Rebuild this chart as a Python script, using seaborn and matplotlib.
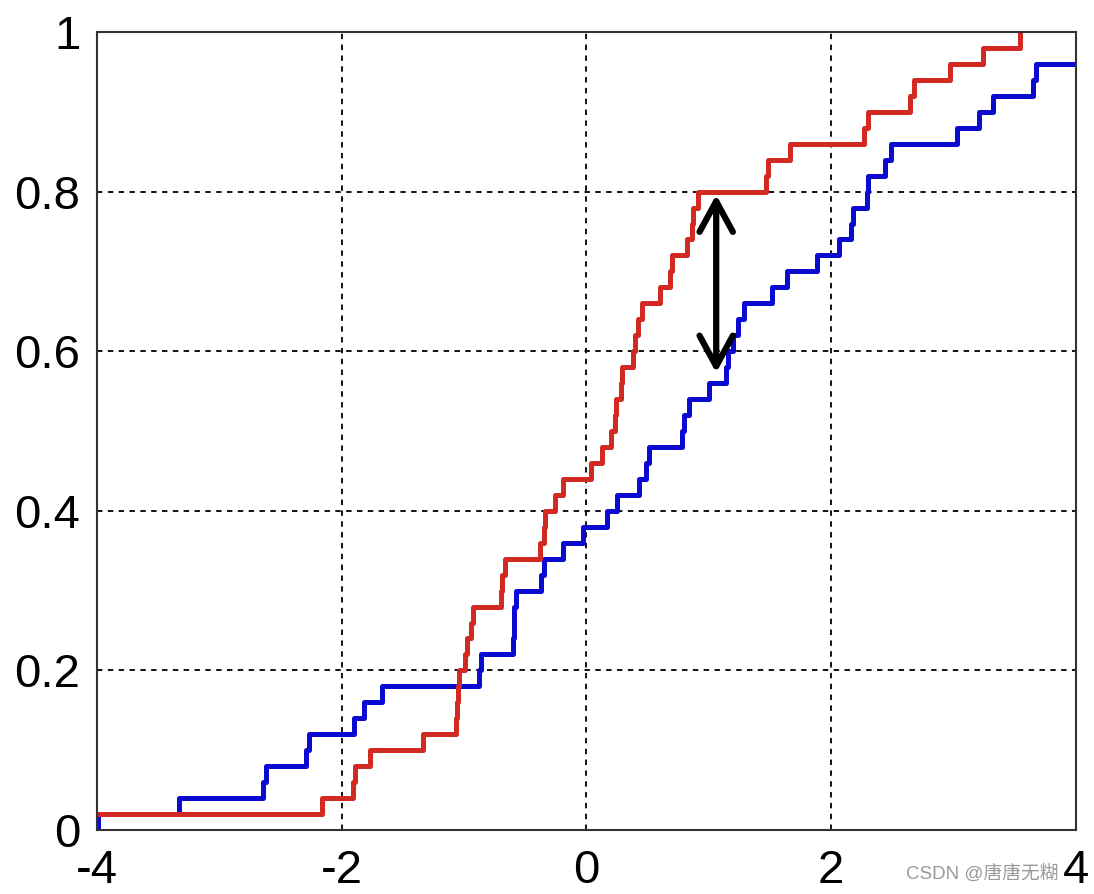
import numpy as np
import pandas as pd
import seaborn as sns
import matplotlib.pyplot as plt

# sample values (50 points each)
sample_1 = [-3.99, -3.33, -2.64, -2.62, -2.29, -2.27, -1.90, -1.82, -1.67, -0.88,
            -0.86, -0.60, -0.59, -0.59, -0.58, -0.37, -0.35, -0.19, -0.03, 0.17,
            0.25, 0.43, 0.49, 0.51, 0.78, 0.80, 0.84, 1.00, 1.14, 1.16,
            1.20, 1.24, 1.29, 1.52, 1.64, 1.88, 2.06, 2.16, 2.18, 2.29,
            2.30, 2.44, 2.49, 3.03, 3.21, 3.32, 3.65, 3.67, 4.30, 4.80]
sample_2 = [-4.30, -2.16, -1.91, -1.89, -1.77, -1.34, -1.07, -1.06, -1.05, -1.04,
            -0.99, -0.98, -0.94, -0.93, -0.70, -0.69, -0.67, -0.38, -0.35, -0.34,
            -0.26, -0.19, 0.04, 0.13, 0.20, 0.23, 0.24, 0.28, 0.29, 0.38,
            0.40, 0.42, 0.45, 0.60, 0.68, 0.70, 0.82, 0.86, 0.87, 0.91,
            1.47, 1.48, 1.66, 2.27, 2.30, 2.64, 2.68, 2.97, 3.24, 3.54]

x_ticks = [-4, -2, 0, 2, 4]
y_ticks = [0, 0.2, 0.4, 0.6, 0.8, 1]
y_tick_labels = ['0', '0.2', '0.4', '0.6', '0.8', '1']

# max gap between the curves (KS statistic)
arrow_x = 1.06
arrow_top = 0.796
arrow_bottom = 0.573

sns.set_style('white')
plt.rcParams['font.family'] = ['Liberation Sans', 'Noto Sans CJK SC', 'DejaVu Sans']

fig = plt.figure(figsize=(10.94, 8.94), dpi=100)
ax = fig.add_axes([0.0887, 0.0716, 0.8948, 0.8926])

# blue first so the red curve sits on top
sns.ecdfplot(x=sample_1, color='#0a0ad0', linewidth=3.6, ax=ax)
sns.ecdfplot(x=sample_2, color='#d22a22', linewidth=3.6, ax=ax)

ax.set_xlim(-4, 4)
ax.set_ylim(0, 1)
ax.set_xticks(x_ticks)
ax.set_xticklabels([str(t) for t in x_ticks])
ax.set_yticks(y_ticks)
ax.set_yticklabels(y_tick_labels)
ax.set_xlabel('')
ax.set_ylabel('')

ax.grid(True, color='black', linestyle=(0, (3, 3)), linewidth=1.3)
ax.tick_params(direction='in', length=6, width=1.2, color='#333333',
               labelsize=34, labelcolor='black', pad=12, top=False, right=False)
ax.tick_params(axis='x', pad=14)
for s in ax.spines.values():
    s.set_color('#333333')
    s.set_linewidth(1.5)

ax.annotate('', xy=(arrow_x, arrow_top), xytext=(arrow_x, arrow_bottom),
            arrowprops=dict(arrowstyle='<->,head_length=1.1,head_width=0.6',
                            color='black', lw=4.5, mutation_scale=20,
                            shrinkA=0, shrinkB=0))

fig.text(0.968, 0.012, 'CSDN @唐唐无糊', ha='right', va='bottom',
         fontsize=13.5, color='#999999', family=['Liberation Sans', 'Noto Sans CJK SC'])

fig.savefig('out.png', dpi=100)
